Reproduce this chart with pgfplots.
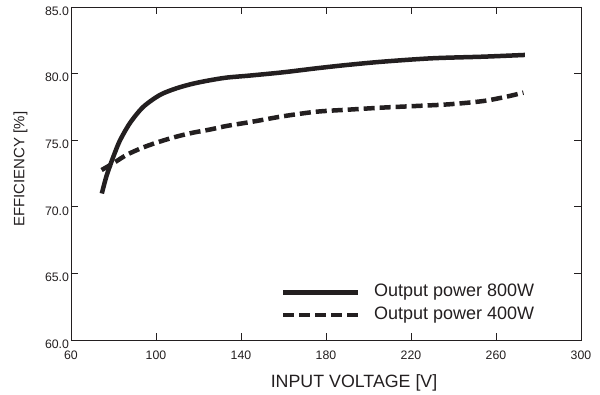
\documentclass[border=0pt]{standalone}
\usepackage{fontspec}
\setmainfont{Liberation Sans}
\usepackage{pgfplots}
\pgfplotsset{compat=1.18}
\definecolor{ink}{HTML}{231F20}
\begin{document}
\begin{tikzpicture}
\begin{axis}[
  scale only axis,
  width=510pt, height=333pt,
  xmin=60, xmax=300, ymin=60, ymax=85,
  xtick={60,100,140,180,220,260,300},
  xticklabels={60,100,140,180,220,260,300},
  ytick={60,65,70,75,80,85},
  yticklabels={60.0,65.0,70.0,75.0,80.0,85.0},
  tick align=inside,
  major tick length=7pt,
  xtick pos=both, ytick pos=both,
  axis line style={line width=0.8pt, color=ink},
  every tick/.style={line width=0.8pt, color=ink},
  tick label style={font=\fontsize{12.3}{14}\selectfont, color=ink},
  xticklabel style={anchor=center, yshift=-15pt},
  yticklabel style={anchor=east, yshift=-4pt, xshift=1.5pt},
  xlabel={INPUT VOLTAGE [V]},
  ylabel={EFFICIENCY [\%]},
  xlabel style={font=\fontsize{17.8}{20}\selectfont, color=ink, at={(axis description cs:0.555,-0.129)}, anchor=center},
  ylabel style={font=\fontsize{15}{18}\selectfont, color=ink, at={(axis description cs:-0.099,0.513)}, anchor=center},
  legend image code/.code={\draw[#1] (0pt,0pt) -- (75pt,0pt);},
  legend cell align=left,
  legend style={at={(axis description cs:0.4117,0.109)}, anchor=west, draw=none, fill=none,
    font=\fontsize{18}{20}\selectfont, text=ink, inner sep=0pt, row sep=5.5pt,
    nodes={inner sep=0pt, text height=13pt, text depth=4pt},
    /tikz/every odd column/.append style={column sep=13.5pt}},
]
\path (rel axis cs:0,0) coordinate (sw);
\path (rel axis cs:1,1) coordinate (ne);
\addplot[ink, line width=4.5pt, smooth, tension=0.5] coordinates {
(74.5,71.0) (76.5,72.2) (78.4,73.1) (80.5,74.0) (83.1,75.0) (87.8,76.3)
(94.0,77.5) (101.9,78.4) (109.7,78.9) (117.6,79.25) (125.4,79.5) (133.3,79.7)
(144,79.85) (160,80.1) (175.6,80.4) (190,80.65) (207,80.9) (230,81.15)
(254,81.27) (273.6,81.4)
};
\addlegendentry{Output power 800W}
\addplot[ink, line width=4.5pt, dash pattern=on 11pt off 5pt, smooth, tension=0.5] coordinates {
(74.4,72.76) (79.9,73.27) (86.2,73.9) (94.0,74.46) (101.9,74.9) (109.7,75.27)
(117.6,75.57) (125.4,75.8) (133.3,76.07) (145.8,76.4) (159.9,76.8) (175.6,77.14)
(191.3,77.3) (207,77.45) (222.7,77.57) (238.4,77.7) (254,77.94) (265,78.27)
(272.9,78.57)
};
\addlegendentry{Output power 400W}
\end{axis}
\pgfresetboundingbox
\path[use as bounding box] ([shift={(-71pt,-55pt)}]sw) rectangle ([shift={(19pt,7pt)}]ne);
\end{tikzpicture}
\end{document}
